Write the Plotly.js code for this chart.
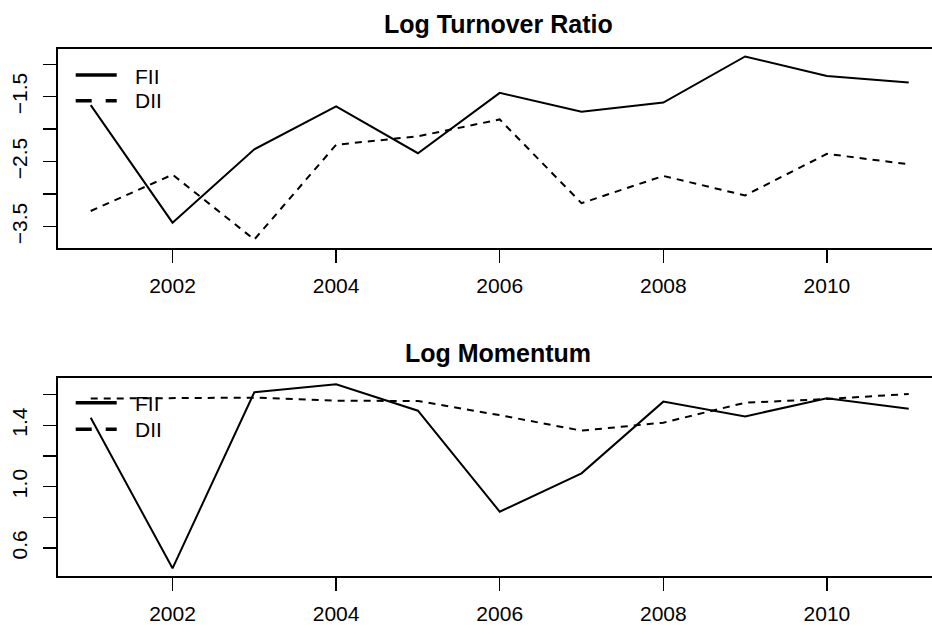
<!DOCTYPE html>
<html>
<head>
<meta charset="utf-8">
<script src="https://cdn.plot.ly/plotly-3.0.1.min.js"></script>
<style>html,body{margin:0;padding:0;background:#fff;}#chart{width:932px;height:625px;}</style>
</head>
<body>
<div id="chart"></div>
<script>
// ---- data ----
const years = [2001, 2002, 2003, 2004, 2005, 2006, 2007, 2008, 2009, 2010, 2011];
const turnoverFII = [-1.63, -3.44, -2.31, -1.65, -2.37, -1.44, -1.73, -1.59, -0.88, -1.18, -1.28];
const turnoverDII = [-3.26, -2.70, -3.70, -2.24, -2.11, -1.85, -3.14, -2.72, -3.02, -2.38, -2.54];
const momentumFII = [1.449, 0.468, 1.615, 1.667, 1.495, 0.837, 1.087, 1.554, 1.458, 1.576, 1.508];
const momentumDII = [1.574, 1.576, 1.580, 1.560, 1.558, 1.466, 1.365, 1.417, 1.547, 1.571, 1.604];
const xTickVals = [2002, 2004, 2006, 2008, 2010];
const xTickText = ['2002', '2004', '2006', '2008', '2010'];
const yTopTickVals = [-3.5, -3.0, -2.5, -2.0, -1.5, -1.0];
const yTopTickText = ['\u22123.5', '', '\u22122.5', '', '\u22121.5', ''];
const yBotTickVals = [0.6, 0.8, 1.0, 1.2, 1.4, 1.6];
const yBotTickText = ['0.6', '', '1.0', '', '1.4', ''];
const titles = ['Log Turnover Ratio', 'Log Momentum'];
const seriesNames = ['FII', 'DII'];

// ---- geometry helpers (pixels -> paper) ----
const W = 932, H = 625, ML = 58, MR = 0, MT = 49, MB = 49;
const PW = W - ML - MR, PH = H - MT - MB;
const px = p => (p - ML) / PW;
const py = p => (H - MB - p) / PH;

const FONT = 'Liberation Sans, Arial, Helvetica, sans-serif';
const solid = {color: '#000', width: 2, dash: 'solid'};
const dashed = {color: '#000', width: 2, dash: '7px,6px'};

const traces = [
  {x: years, y: turnoverFII, xaxis: 'x', yaxis: 'y', mode: 'lines', line: solid, name: seriesNames[0]},
  {x: years, y: turnoverDII, xaxis: 'x', yaxis: 'y', mode: 'lines', line: dashed, name: seriesNames[1]},
  {x: years, y: momentumFII, xaxis: 'x2', yaxis: 'y2', mode: 'lines', line: solid, name: seriesNames[0]},
  {x: years, y: momentumDII, xaxis: 'x2', yaxis: 'y2', mode: 'lines', line: dashed, name: seriesNames[1]}
];

const xCommon = {
  range: [2000.6, 2000.6 + PW / 81.8],
  tickvals: xTickVals, ticktext: xTickText,
  ticks: 'outside', ticklen: 13, tickwidth: 1.5, tickcolor: '#000',
  showline: true, linecolor: '#000', linewidth: 2, mirror: true,
  showgrid: false, zeroline: false,
  tickfont: {family: FONT, size: 21, color: '#000'},
  ticklabelstandoff: 5, fixedrange: true
};
const yCommon = {
  ticks: 'outside', ticklen: 13, tickwidth: 1.5, tickcolor: '#000',
  showline: true, linecolor: '#000', linewidth: 2, mirror: false,
  showgrid: false, zeroline: false, tickangle: -90,
  tickfont: {family: FONT, size: 21, color: '#000'},
  ticklabelstandoff: 8, fixedrange: true
};

const topBottom = py(248), botTop = py(377.7);

const layout = {
  width: W, height: H,
  margin: {l: ML, r: MR, t: MT, b: MB, pad: 0},
  paper_bgcolor: '#fff', plot_bgcolor: '#fff',
  showlegend: false,
  xaxis: Object.assign({}, xCommon, {domain: [0, 1], anchor: 'y'}),
  yaxis: Object.assign({}, yCommon, {domain: [topBottom, 1], anchor: 'x', range: [-3.83, -0.765],
    tickvals: yTopTickVals, ticktext: yTopTickText}),
  xaxis2: Object.assign({}, xCommon, {domain: [0, 1], anchor: 'y2'}),
  yaxis2: Object.assign({}, yCommon, {domain: [0, botTop], anchor: 'x2', range: [0.418, 1.710],
    tickvals: yBotTickVals, ticktext: yBotTickText}),
  shapes: [
    {type: 'line', xref: 'paper', yref: 'paper', x0: px(75.7), x1: px(116.7), y0: py(75), y1: py(75), line: {color: '#000', width: 3.5}},
    {type: 'line', xref: 'paper', yref: 'paper', x0: px(75.7), x1: px(116.7), y0: py(100.7), y1: py(100.7), line: {color: '#000', width: 3.5, dash: '16px,14px'}},
    {type: 'line', xref: 'paper', yref: 'paper', x0: px(75.7), x1: px(116.7), y0: py(402.7), y1: py(402.7), line: {color: '#000', width: 3.5}},
    {type: 'line', xref: 'paper', yref: 'paper', x0: px(75.7), x1: px(116.7), y0: py(429.3), y1: py(429.3), line: {color: '#000', width: 3.5, dash: '16px,14px'}}
  ],
  annotations: [
    {text: '<b>' + titles[0] + '</b>', xref: 'paper', yref: 'paper', x: px(498), y: py(24), xanchor: 'center', yanchor: 'middle', showarrow: false, font: {family: FONT, size: 25, color: '#000'}},
    {text: '<b>' + titles[1] + '</b>', xref: 'paper', yref: 'paper', x: px(498), y: py(353), xanchor: 'center', yanchor: 'middle', showarrow: false, font: {family: FONT, size: 25, color: '#000'}},
    {text: seriesNames[0], xref: 'paper', yref: 'paper', x: px(133), y: py(76), xanchor: 'left', yanchor: 'middle', showarrow: false, font: {family: FONT, size: 21, color: '#000'}},
    {text: seriesNames[1], xref: 'paper', yref: 'paper', x: px(133), y: py(101), xanchor: 'left', yanchor: 'middle', showarrow: false, font: {family: FONT, size: 21, color: '#000'}},
    {text: seriesNames[0], xref: 'paper', yref: 'paper', x: px(133), y: py(403), xanchor: 'left', yanchor: 'middle', showarrow: false, font: {family: FONT, size: 21, color: '#000'}},
    {text: seriesNames[1], xref: 'paper', yref: 'paper', x: px(133), y: py(430), xanchor: 'left', yanchor: 'middle', showarrow: false, font: {family: FONT, size: 21, color: '#000'}}
  ]
};

Plotly.newPlot('chart', traces, layout, {staticPlot: true, displayModeBar: false});
</script>
</body>
</html>
